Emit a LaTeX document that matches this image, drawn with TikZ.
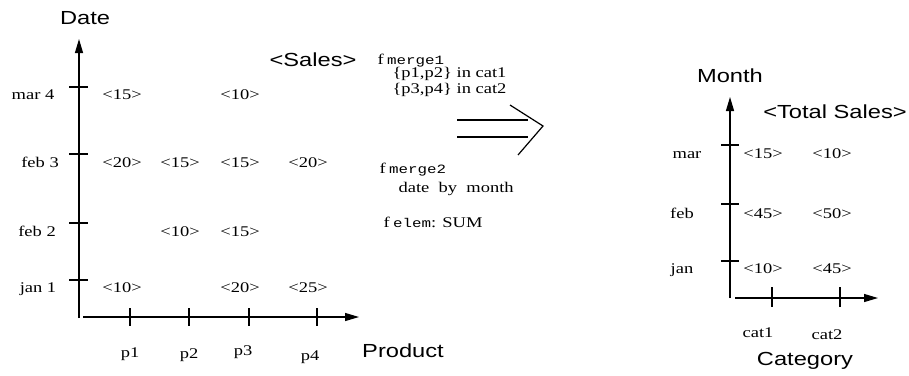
\documentclass[tikz,border=0pt]{standalone}
\usepackage{fontspec}
\setmainfont{Liberation Serif}[FakeStretch=1.25]
\newfontfamily\lblfont{Liberation Sans}[FakeStretch=1.25]
\newfontfamily\ttf{Liberation Mono}[FakeStretch=1.25]
\usetikzlibrary{arrows.meta}
\newcommand{\subtt}[1]{{\ttf\fontsize{9.5}{11}\selectfont #1}}
\begin{document}
\begin{tikzpicture}[x=0.75pt,y=-0.75pt,line width=0.9pt,
  >={Triangle[length=10.5pt,width=6pt]},
  val/.style={font=\fontsize{11.1}{13}\selectfont,inner sep=0pt,anchor=base},
  txt/.style={font=\fontsize{11.1}{13}\selectfont,inner sep=0pt,anchor=base west},
  big/.style={font=\lblfont\fontsize{14.2}{16}\selectfont,inner sep=0pt,anchor=base},
  axisline/.style={->}]
\path[use as bounding box] (0,0) rectangle (909,375);

% ---------- left chart ----------
\coordinate (o1v) at (79,318); \coordinate (t1v) at (79,39);
\coordinate (o1h) at (83,317); \coordinate (t1h) at (359,317);
\draw[axisline] (o1v) -- (t1v);
\draw[axisline] (o1h) -- (t1h);
\foreach \y in {87,154,223,280} \draw (69,\y) -- (88,\y);
\foreach \x in {130,189,249,317} \draw (\x,308) -- (\x,326);

\node[big] (date) at (85,24) {Date};
\node[big] (sales) at (313,66) {<Sales>};
\node[big] (prod) at (403,357) {Product};

\node[val] (lmar4) at (33,99) {mar 4};
\node[val] (lfeb3) at (40,167) {feb 3};
\node[val] (lfeb2) at (37,236) {feb 2};
\node[val] (ljan1) at (38,292) {jan 1};

\node[val] (p1) at (130,357) {p1};
\node[val] (p2) at (189,358) {p2};
\node[val] (p3) at (243,355) {p3};
\node[val] (p4) at (310,360) {p4};

\node[val] (v11) at (122,99) {<15>};
\node[val] (v13) at (240,99) {<10>};
\node[val] (v21) at (122,167) {<20>};
\node[val] (v22) at (180,167) {<15>};
\node[val] (v23) at (240,167) {<15>};
\node[val] (v24) at (308,167) {<20>};
\node[val] (v32) at (180,236) {<10>};
\node[val] (v33) at (240,236) {<15>};
\node[val] (v41) at (122,292) {<10>};
\node[val] (v43) at (240,292) {<20>};
\node[val] (v44) at (308,292) {<25>};

% ---------- middle text ----------
\node[txt] (fm1) at (377,64) {f\hspace{2.5pt}\subtt{merge1}};
\node[txt] (g1) at (392,77) {\{p1,p2\} in cat1};
\node[txt] (g2) at (392,93) {\{p3,p4\} in cat2};
\node[txt] (fm2) at (379,173) {f\hspace{2.5pt}\subtt{merge2}};
\node[txt] (dbm) at (398,192) {date\ \ by\ \ month};
\node[txt] (fel) at (383,227) {f\hspace{2.5pt}\subtt{elem}: SUM};

% double arrow
\draw (457,120) -- (528,120);
\draw (457,137) -- (528,137);
\draw (510,105) -- (543,126) -- (518,155);

% ---------- right chart ----------
\coordinate (o2v) at (730,298); \coordinate (t2v) at (730,97);
\coordinate (o2h) at (735,298); \coordinate (t2h) at (878,298);
\draw[axisline] (o2v) -- (t2v);
\draw[axisline] (o2h) -- (t2h);
\foreach \y in {145,204,261} \draw (721,\y) -- (739,\y);
\foreach \x in {772,840} \draw (\x,287) -- (\x,307);

\node[big] (month) at (730,82) {Month};
\node[big] (tsales) at (835,118) {<Total Sales>};
\node[big] (cat) at (805,365) {Category};

\node[val] (lmar) at (687,158) {mar};
\node[val] (lfeb) at (682,218) {feb};
\node[val] (ljan) at (682,273) {jan};
\node[val] (c1) at (758,337) {cat1};
\node[val] (c2) at (827,339) {cat2};

\node[val] (w11) at (763,158) {<15>};
\node[val] (w12) at (832,158) {<10>};
\node[val] (w21) at (763,218) {<45>};
\node[val] (w22) at (832,218) {<50>};
\node[val] (w31) at (763,273) {<10>};
\node[val] (w32) at (832,273) {<45>};
\end{tikzpicture}
\end{document}
